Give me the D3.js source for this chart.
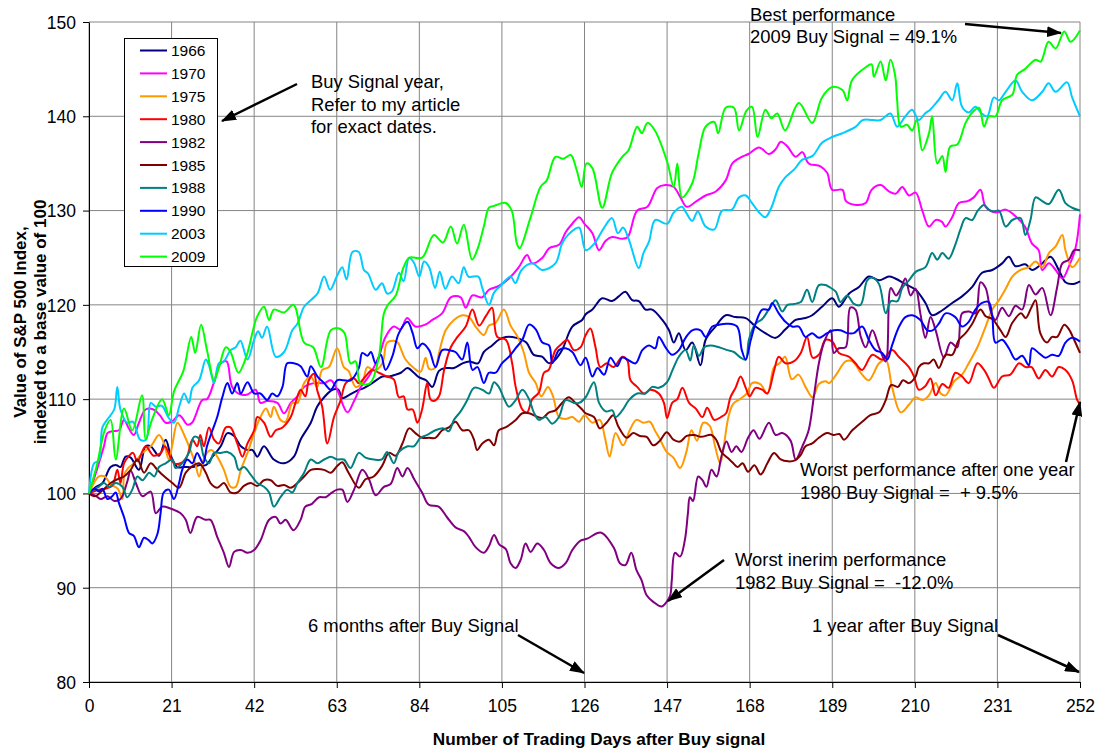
<!DOCTYPE html>
<html>
<head>
<meta charset="utf-8">
<script src="https://cdn.jsdelivr.net/npm/d3@7"></script>
<style>
  body { margin: 0; background: #fff; }
  svg { display: block; }
  text { font-family: Arial, "Liberation Sans", sans-serif; fill: #000; }
</style>
</head>
<body>
<div id="chart"></div>
<script>
// Années du signal d'achat et couleurs (ordre de la légende)
const years = ["1966", "1970", "1975", "1980", "1982", "1985", "1988", "1990", "2003", "2009"];
const colors = ["#000080", "#FF00FF", "#FF9900", "#FF0000", "#800080", "#800000", "#008080", "#0000FF", "#00CCFF", "#00FF00"];

const xTicks = [0, 21, 42, 63, 84, 105, 126, 147, 168, 189, 210, 231, 252];
const yTicks = [80, 90, 100, 110, 120, 130, 140, 150];

// Valeurs : [jour de bourse, indice]
const s1966 = [[0,100],[1.5,100.6],[3.4,101.1],[5.5,102.8],[7,103],[8,102.8],[9.3,103.9],[10.6,103.8],[12.7,102.5],[14.4,105],[15.7,105],[17.8,104],[19.5,105.7],[20.8,104],[22.5,102.8],[24.2,102.8],[26.4,102.8],[28,103],[29.7,103],[31.4,103.9],[33.5,105],[35.2,106.4],[36.9,106.1],[38.6,105],[40.3,104.6],[41.6,104.6],[42.8,103.9],[44.5,105],[47,103.6],[49.6,103.2],[52.1,103.9],[53.8,105.7],[56.4,107.5],[58,109.2],[59.8,110.2],[61.9,111],[63.4,111],[64.4,110.1],[66,110.4],[68.2,110.9],[70,111.2],[72,111.7],[74.6,112.4],[76.3,112.4],[78,112.6],[79.3,112.8],[81,113.3],[82.6,112.8],[84,112.3],[85.7,112],[87.3,111.3],[89,113],[90.7,113.3],[92.8,113.3],[95,113.8],[96.7,114],[98.9,113.8],[100.4,115],[102.5,115.7],[104.2,116.3],[106,116.6],[108.7,116.5],[111.2,116],[113.1,114.7],[115.2,114.5],[117,113.8],[118.6,114.2],[120.3,115.2],[122.9,117.7],[125.4,118.4],[126.3,119],[128,119.5],[130.5,120.7],[133,120.4],[134.7,120.9],[136.4,121.4],[138.1,120.5],[139.8,120.4],[141.5,119.5],[143.2,119.5],[145.8,118.4],[147.5,117.3],[148.7,116],[150,117],[151.7,115.2],[153.4,116],[155.5,113.6],[156.8,116.3],[159.3,117.7],[161.9,118.9],[164.4,118.7],[167,118.6],[169.5,117.7],[172,117],[174.6,116.5],[177.1,117.4],[179.7,118.4],[182.2,118.6],[183.9,118.9],[186.4,119.8],[189,120.7],[190.7,119.8],[193.3,121.2],[195.8,121.9],[198.3,123],[200.9,122.6],[203.4,123],[205,122.8],[207.6,122.2],[210.2,121.6],[212.7,120.2],[214.4,118.9],[216.9,119.4],[219.5,120.2],[222,120.9],[224.6,121.9],[227.1,123.4],[229.7,123.7],[232.2,124.4],[233.9,125.1],[235.6,124.1],[238.1,124.3],[239.8,123.7],[242.4,124.4],[244.5,125.1],[246.6,123.7],[248.3,122.4],[250,122.2],[252,122.5]];

const s1970 = [[0,100],[2,102.5],[3.8,105],[4.7,106.4],[6,106.6],[7.6,106.7],[8.9,107.8],[10,107],[11.4,106.2],[12.7,107.5],[14.4,108.9],[16.4,108.9],[18,108.3],[19.5,107.5],[21,107.6],[23,108.3],[25,107.3],[26.2,107.5],[28.8,109.9],[30,110],[31.8,111.8],[33.5,113.8],[35,114],[36.4,111.3],[38.5,110.5],[40.3,110.5],[42.4,111],[43.6,109.6],[45.3,109.8],[47.9,109.6],[49.6,108.5],[51.3,109.6],[53,110.3],[54.7,111.3],[57.2,111.7],[59.8,111.7],[61.5,112],[63.1,111],[65.7,108.6],[67.4,109.8],[69,111.2],[71.3,112.5],[73.7,114.5],[75.4,116.6],[77.5,117.7],[79.2,117.4],[80.9,118.6],[83,117.7],[85.5,117.9],[87.3,118.4],[89.8,119.1],[92,120.8],[94.5,120.8],[95.8,119.7],[97.5,121],[100,120.8],[101.7,121.6],[104.2,122],[106.8,122.8],[109.3,124],[111.4,125.3],[112.7,124.4],[115.3,125],[117,126],[119.6,126.4],[121.2,127.7],[122.9,128.6],[124.6,129.3],[126,128.6],[128,127.6],[129.7,125.8],[131.4,126.8],[133,127.2],[135.6,127],[137,127.2],[139.4,130],[142,130.4],[144.5,132.4],[146.6,132.7],[148.7,132.5],[150.4,131.4],[152,130.4],[154.5,131],[156.8,131.6],[159.3,132],[161.9,133.2],[163.6,135],[166,135.7],[167.7,136],[170.4,136.7],[172.9,136],[174.6,136.5],[175.9,137.3],[177.6,136.8],[179.7,135.7],[181.4,136.2],[183,135],[186,134.7],[187.7,134],[189,132.2],[191.6,132.2],[192.5,131],[195,130.6],[197.5,130.8],[199,132.2],[201.3,132.7],[203.5,132],[205.2,131.8],[206.8,132.5],[208.5,131.6],[210.2,131.9],[211.9,130],[213.6,128.3],[215.3,129],[216.9,128.8],[217.8,128.3],[219.5,129.3],[221.2,130.8],[223.4,131],[225,131.4],[226.7,132.2],[228,130.4],[230.5,129.8],[233.1,130.1],[235.6,129.4],[238,128.3],[239.8,126.5],[241.5,125.8],[242.4,123.7],[244.1,124.4],[245.8,123.7],[247.5,122.8],[249.2,124.1],[250.9,126.1],[252,129.6]];

const s1975 = [[0,100],[2.5,101.8],[4,101.8],[5.5,101],[7.3,100.5],[8.5,99.4],[9,102],[10,102.7],[11.4,103.2],[13.6,104.3],[15.7,105],[17.8,106.2],[19,105.4],[20.3,103.6],[21.2,105.2],[22.5,107.5],[24.2,106.2],[25.8,104.6],[27,103.2],[28,101.8],[29.5,104],[31.1,104.6],[32.6,103.9],[34.3,102.5],[36,100.7],[37.3,100.7],[38.6,102.5],[40.3,104.3],[42,106.4],[43.6,108.1],[45,109],[46.2,108.1],[47,109.2],[48.7,107.8],[50,107.6],[51.7,109.6],[53,109.6],[54.7,111.7],[56.4,112.4],[58,111.3],[59.3,113.1],[61,113.4],[63.1,115.4],[64.8,113.4],[66,113],[67.8,111.3],[69.5,111.8],[70.8,113.4],[72.5,113],[74.6,113.8],[75.8,116],[77.5,116.2],[78.5,116],[80.5,114.2],[82.6,113.3],[84.3,112.9],[85.6,114.4],[86.5,113.2],[88,113.3],[89,114.9],[90.7,117.3],[92.8,118.4],[95,118.9],[96.7,118.7],[98.3,117.7],[100.4,116.8],[101.7,117.8],[103.4,118.1],[105.5,119.5],[107.2,117.8],[109,116.6],[110.6,114.9],[111.9,112.8],[113.6,111.7],[115,110.3],[116.7,111.3],[118,110.3],[119.5,108.1],[121.2,107.9],[122.9,108.1],[124.6,107.6],[126,108.3],[128,107.5],[129.9,107.8],[131.2,105.9],[132.4,103.9],[133.9,106.4],[135.8,105.1],[137.5,106.7],[139.2,107.8],[141,107.5],[142.6,107.6],[144,106.6],[145,105.9],[146.9,104.4],[148.6,103.8],[150.3,102.7],[151.9,104.4],[153.2,106.7],[154.6,105.6],[156.2,107.5],[157.8,107.2],[159.2,105],[160.5,103.2],[161.3,104.7],[162.6,108.1],[163.8,109.5],[165.5,110],[167.3,110.6],[168.6,111.7],[170.7,111.6],[172.5,110.6],[174.2,113.4],[175.6,113.8],[177,114.5],[178.7,112.1],[180.4,112.6],[182.2,111.3],[184,110.2],[185.6,111.6],[187.3,111.9],[188.2,111.7],[190,112.6],[192.4,114],[194.1,114],[196.6,112.6],[198.3,112],[200.9,113.8],[202.6,114.2],[204.2,111.3],[206.4,108.6],[208.5,109.4],[210.2,110.2],[212,109.9],[213.6,110.4],[215.3,111.7],[216.6,110.6],[217.8,110.4],[220,111.9],[222,112.6],[223.7,113.8],[225.9,115.5],[228,117.7],[229.7,119.5],[231.4,120.5],[233.1,121.7],[234.8,123],[236.9,123.7],[239,124],[240.7,124.6],[242.4,124],[244.1,125.5],[245.8,126.2],[247.5,127.4],[248.3,125.8],[250,124],[252,125]];

const s1980 = [[0,100],[2.5,100.4],[4.2,100.5],[5.9,100.8],[7.2,102.5],[8,101.1],[8.9,103.2],[10,103.9],[11.2,104.3],[12.3,103.4],[14.4,105],[16.4,104],[18.3,104.3],[19.3,105],[21.6,103.2],[23.3,103.2],[24.9,103.9],[26.3,105.7],[27.5,105],[28.3,106.2],[29.2,105],[30.5,107],[31.8,105.7],[33,105.3],[34.8,107],[36,107],[37.7,105.3],[39,103.9],[40.3,105.3],[42,106.7],[42.8,108.1],[44.5,107.5],[46.2,106],[47.5,106.7],[49.2,107],[51.3,108.1],[52.5,109.6],[53.8,111],[55,110.3],[55.9,112],[57.2,112.7],[58,111],[59.3,109.2],[60.6,105.3],[62.3,108.1],[64,109.9],[65.3,111.7],[67.4,112.2],[68.6,111.7],[70.3,112.4],[72,113.1],[73.7,112.8],[75.8,112.4],[77.5,112.1],[78.8,110.2],[80,110.3],[81,108.9],[82.3,108.9],[83.5,107.5],[84.7,108.9],[86,111.7],[86.8,110],[87.7,109.8],[89,110.3],[90.3,113.1],[92,115.5],[93.7,116.6],[95.8,117.7],[97.5,119.5],[99.2,117.8],[100.9,118.8],[102.5,119.7],[103.8,116.6],[106,116.3],[107.6,113.8],[108.5,111.3],[110.2,108.9],[111.4,108.6],[112.7,110],[114.4,110.7],[115.7,112.8],[116.9,113.1],[118.6,115.2],[120.3,115.9],[121.6,116.3],[123.3,115.2],[125,115.5],[126.3,116.8],[127.5,117.5],[128.8,115.5],[130,113.4],[131.7,113.8],[133.4,113.4],[135.6,114.5],[136.9,114.1],[137.7,112],[139.4,111.3],[141.1,110.6],[142.8,111],[144.9,110.6],[146.2,109.6],[147,108],[148.3,109.6],[149.6,110],[150.9,111.2],[152.6,109.6],[154.3,109],[156,108.1],[157.2,109.1],[159,107.8],[160.7,108.1],[162,108.5],[163.1,110.2],[164.4,111.2],[165.7,112.4],[167,111.2],[168,110.3],[169.5,111.2],[171.2,111],[172.5,110.6],[174.2,113],[175.4,114.5],[177.1,113.8],[179.2,114],[181,114.9],[182.6,116.6],[184,114.4],[185.6,114.7],[187.3,116.3],[189,116.1],[190.7,114.9],[193.2,114.5],[194.9,113.8],[196.6,113.1],[199.2,114.7],[201.7,114.2],[204.2,115.2],[205.9,114.5],[208.5,113.4],[209.8,112.4],[211,111],[212.7,111.4],[214,112.2],[215.3,110.4],[217,111.6],[218.6,111.2],[220.3,112.8],[222,112.4],[223.7,111.7],[225.9,113.8],[227.6,113.1],[228.8,112.2],[230.1,111.2],[232.2,112.4],[234.3,112.6],[236.5,113.8],[238.2,113.4],[239.7,113.4],[241.5,112.2],[243.2,113.1],[244.9,112.4],[246.6,113.4],[248.3,113.1],[250,112],[251.3,109.9],[252,109.5]];

const s1982 = [[0,100],[1.5,99.8],[3,99.4],[4.7,99.7],[6.4,99.2],[8,99.4],[9.7,101.2],[10.6,102.4],[12,101],[13.6,99.7],[15.7,100.2],[17,97.9],[18.6,98.6],[20.7,98.4],[23.3,97.9],[24.6,97.2],[25.8,95.8],[27.5,97.5],[29.6,97.2],[30.9,97.2],[32.6,95.4],[34.3,93.7],[35.6,92.2],[36.9,93.8],[38.6,94],[40.3,93.7],[42,94],[43.6,95],[45.8,97.2],[47.5,97.5],[48.7,96.8],[50,97.2],[52,96.1],[53.8,97.2],[55,98.6],[56.7,98.9],[58.5,99.6],[60.2,99.6],[61.5,100],[63.1,100.4],[64.4,100.4],[65.7,99.1],[67.4,100.4],[69.5,102.5],[71.2,101.5],[72.9,99.8],[75,100.7],[76.7,101],[78.4,102.7],[79.7,101.8],[81,102.7],[82.7,101.5],[84.7,100.1],[86.4,98.8],[88.9,98.6],[91,97.5],[93.2,96.4],[95.3,96],[96.6,95.4],[98.3,94.3],[100.4,93.7],[101.7,94.4],[103,95.6],[104.3,94.6],[106,94.1],[107.2,92.6],[108.5,92.1],[109.8,93],[111,94.7],[112.3,93.8],[114,94.7],[115.7,94],[117.4,92.6],[119.5,92.1],[121.2,92.6],[122.9,94],[125,95],[126.7,95.2],[129.3,95.8],[130.5,95.8],[133.5,94.2],[135,92.6],[136.4,92.4],[137.9,93.7],[139.2,91.9],[140.5,90.8],[141.8,89.2],[143.5,88.5],[145.6,88],[146.9,88.5],[147.8,89.2],[148.2,90.8],[149,93.7],[150.3,93.3],[151.5,95],[152.3,97.9],[152.8,99.6],[153.6,99.2],[154.9,101.8],[156,101.4],[157,100.7],[158.3,102.5],[159.6,101.8],[160.8,103.9],[162.1,105.5],[163.4,104.4],[164.6,105],[165.9,104.4],[167.6,105.9],[169,106.7],[170.5,105.8],[172.9,107.5],[174.6,106.2],[176.3,106.4],[178.4,105.6],[179.7,103.6],[181.4,105],[183,106.7],[184.3,110.2],[185.6,113.8],[186.9,116],[188.6,117.3],[189.4,114.9],[190.7,115.4],[192.4,115.5],[193.6,119.7],[194.9,119.5],[196.2,116.7],[197.5,115.5],[199.2,117.3],[200.9,115.5],[202.6,114],[203.9,121.8],[205.2,121],[206.4,121.7],[207.6,122.8],[208.9,121],[210.2,121.7],[211.4,119.1],[212.7,116.5],[214,118.7],[215.3,117.3],[217.4,114.4],[219.1,116],[220.8,115.5],[222,119.1],[223.7,119.3],[225.4,119.1],[226.7,122.4],[228,121.8],[229.3,119.3],[230.5,118.4],[232.2,119.7],[233.9,118.8],[235.6,119.9],[237.3,119.5],[239,122.1],[240.7,121.1],[242.4,121.8],[244.5,118.9],[246.2,121.9],[247.5,124.4],[249.2,124.8],[250.5,125.8],[252,125.8]];

const s1985 = [[0,100],[1.5,99.7],[3.4,100.3],[5.5,101.1],[7.2,101.5],[8.9,101.8],[10.6,102.5],[12.3,103.6],[14,102.2],[15.7,103.2],[17.4,102.5],[18.6,102],[21.2,101.1],[22.9,100.6],[24.6,102.2],[26.3,102.9],[28,103.2],[29.7,102.2],[30.9,101.1],[32.6,100.6],[34.3,101.1],[36,100.1],[37.7,100.1],[39.4,100.8],[41.1,101.1],[42.8,100.8],[44.5,101.4],[46.2,101.4],[47.9,100.8],[49.6,100.9],[51.3,100.6],[53,101.1],[54.7,101.8],[56.4,102.5],[58.1,102.6],[59.8,102.5],[61.5,102.2],[63.1,102.9],[64.4,103.3],[66,102.2],[68.6,100.6],[70.3,101.5],[72.4,101.8],[74.5,102.9],[76.3,104.3],[78,104],[79.7,105.3],[81.4,106.9],[83,106.4],[84.7,105.9],[86.4,105.9],[88.1,105.9],[89.8,106.7],[91.5,107],[93.2,107.6],[94.9,106.7],[96.6,106.7],[97.9,105.7],[98.7,104.6],[100,105.3],[101.7,105.7],[103,105.1],[104.2,106.7],[105.9,107],[108.5,107.8],[110.2,108.5],[111.9,108.5],[113.6,108.2],[115.3,108],[117,108.6],[118.6,108.8],[120.3,109.6],[122,110.2],[123.7,109.6],[125.4,108.9],[126.3,108.5],[128.4,108.1],[129.9,106.9],[131.6,107.5],[133.3,108.3],[134.6,107.1],[136.7,105.9],[138.4,106.4],[140.1,106.1],[141.8,106],[143.5,105.1],[145.2,105.6],[146.9,106.5],[148.6,105.7],[150.3,105.5],[152,106.1],[153.9,106.2],[155.6,106],[158.3,106.2],[159.6,105.6],[160.8,104.4],[162.3,103.8],[163.6,103.3],[164.9,102.8],[166.2,103.2],[167.6,102.3],[169.2,103],[170.8,102],[172.5,103.2],[174.2,104.3],[175.9,103.6],[177.8,103.4],[179.5,103.5],[181,104.1],[182.2,105],[183.9,105.3],[185.6,105.9],[187.7,106.4],[189.4,106.2],[190.8,106.3],[192,105.7],[194.1,106.7],[196.6,107.6],[198.7,108.3],[200.9,108.6],[202.6,109.9],[204,111.5],[205.7,111.3],[207,112],[208.5,111.7],[210.2,112.4],[211,113.4],[212.3,113.8],[213.6,113.8],[214.8,114.2],[216.1,113.3],[217.8,114.7],[219.5,114.7],[221.2,116.3],[222.9,117],[224.6,118],[226.7,119.5],[228,118.8],[229.7,118.5],[231.8,117.3],[233.1,116.6],[234.8,118.1],[237,119.1],[238.2,118.6],[239.5,119.6],[240.7,120.5],[241.9,117],[243.6,116],[244.9,116.6],[246.2,116.6],[248,117.9],[249.2,117.4],[250.5,116.3],[252,114.9]];

const s1988 = [[0,100],[1.2,100.4],[2.5,100.7],[3.8,101.1],[5.1,100.7],[6.8,101.1],[8.5,100.7],[9.7,99.6],[11,100.4],[12.3,101.8],[13.6,101.4],[15.3,102.2],[16.6,101.8],[17.8,102.8],[19.5,103.2],[21.2,103.6],[22,102.7],[23.7,103.2],[25.4,104.3],[26.7,106],[28,105.8],[29.2,103.9],[30.5,103.2],[31.8,104.3],[33.5,104.3],[35.2,104.4],[36.9,103.9],[38.1,102.5],[39.4,102.8],[41.1,102],[42.8,101.1],[44.5,100.7],[45.8,100.1],[47,98.6],[48.7,99.6],[50.4,100.4],[51.7,100.1],[53,101.1],[54.7,102.2],[56.4,103.6],[58.1,103.2],[59.8,103.6],[61.5,103.9],[63.1,103.6],[64.8,103.6],[66.5,102.7],[68.6,104.3],[70.3,103.8],[72.4,103.6],[74.5,103.6],[75.8,104.4],[77.5,103.2],[78.8,104.4],[81,105],[82.6,105],[84.3,105.9],[86,106.2],[88.1,106.7],[90.2,106.9],[91.5,106.6],[92.8,107.8],[94.5,108.7],[96.2,109.9],[97.9,111.2],[100,111],[101.7,110.6],[103,111.8],[104.2,111.3],[105.5,110.1],[106.8,109.2],[108.5,109.9],[110.2,111],[111.9,110],[113.1,108.6],[114.4,107.8],[116.1,108.1],[117.8,107.4],[119.5,108.1],[121.2,109.9],[123.3,109.6],[124.6,109.6],[126.3,110.2],[128.4,111.8],[129.7,109.6],[131.4,108.7],[133.1,108.8],[133.9,108.1],[135.6,108.8],[137.3,109.9],[139.4,110.6],[141.5,110.6],[143.2,111.3],[144.9,111.2],[147,111.8],[148.3,113],[150,114.5],[151.7,115.2],[152.9,114.1],[153.8,115.7],[155.1,114.6],[156.4,115.5],[158,115.7],[160.2,115.5],[162.3,115.2],[164,115],[165.7,114.4],[167,114.2],[167.8,116.3],[169.5,118],[171.2,118.5],[173.3,119.8],[174.6,120.5],[176.3,119.3],[177.6,120],[179.3,120.1],[181,120.3],[182.6,121.6],[183.9,120.3],[185.6,122.1],[187.3,122.1],[188.2,121.9],[189.9,121.4],[191.1,120.3],[192.8,121],[194.5,120.1],[196.2,120],[197.9,122.6],[199.2,122.9],[200.9,122.2],[202.6,119.1],[203.9,120.4],[205.6,120.4],[206.8,121.8],[208.5,122.6],[210.2,123.5],[212.7,124],[214.4,125.5],[215.7,124.8],[217,125.5],[218.6,124.9],[220.3,126.4],[221.6,128],[222.9,129.2],[224.6,129],[226,130],[227.6,130.6],[228.8,130.1],[230.1,129.9],[231.4,130],[233.1,128.3],[234.8,129],[236.9,129.2],[238.1,127.4],[239.4,129],[240.7,131.4],[242.4,131],[244.1,130.7],[246.6,132.2],[248.3,130.8],[250,130.3],[252,130]];

const s1990 = [[0,100],[1.5,100.5],[2.5,100.2],[3.4,100.5],[4.7,99.4],[5.9,99.7],[6.8,100.1],[7.6,99],[8.9,97.5],[10.2,95.8],[11.4,95.5],[12.7,94.3],[14,95.3],[15.3,95],[16.1,94.7],[17.4,95.7],[18.2,97.9],[19,100.1],[20.3,100.4],[21.6,99.4],[22.9,101.1],[23.7,102.5],[25,103.6],[26.3,103.2],[27.5,104.3],[29,103.2],[30,105],[31.4,106.7],[32.6,108.1],[33.9,110.2],[35.2,111.7],[36.4,110.6],[37.7,111.7],[38.6,110.6],[40.3,111.8],[42,110.6],[43.6,110.6],[45.3,109.9],[46.6,110.6],[47.9,110.3],[49.2,111.3],[50.4,113.8],[52.1,113.8],[53.8,113.5],[55.5,112.4],[56.4,113.5],[58.1,112.4],[59.8,111.7],[61.5,111],[63.1,112],[64.8,112],[66.5,112],[68.6,113.3],[69.5,114.9],[70.8,114.6],[71.7,115],[72.9,113.8],[74.2,114.7],[75.4,113.1],[77.1,114.5],[78.8,117],[81,118.2],[82.3,117],[83.5,115.4],[84.8,115.9],[86.5,115.2],[88.1,113.4],[89.8,115.2],[91.5,115.2],[93.2,115],[94.9,114.2],[96.2,116],[97.5,113.1],[98.8,113.4],[100.4,111.7],[101.7,112.8],[103.4,112.8],[105,113.8],[106.8,114.5],[108.5,115.4],[110.2,116.3],[111.9,117.9],[113.6,117.4],[115.3,116],[117,115.7],[117.8,113.8],[119.5,115.2],[121.2,115.4],[122.9,115],[125,113.6],[126.3,114.4],[128,112.4],[129.3,113.3],[131,112.6],[132.6,114.4],[134.3,113.5],[135.6,114.4],[137.3,114.1],[139,113.8],[140.7,115.2],[142.4,115.7],[144,115.4],[144.9,116.6],[146.6,115.5],[148.3,114.7],[150,115.2],[151.7,116.5],[153.4,117.3],[155.5,117.3],[156.8,116.6],[158.5,117.7],[160.2,117.9],[162.3,118],[164.8,117.7],[166,115.2],[167,114.2],[168.3,116.3],[169.5,118],[171.2,119.5],[172.9,119.5],[173.7,120.2],[175.4,119.1],[177.1,118.2],[178.8,117.7],[180.5,117.7],[182.2,116.6],[183.9,117],[185.6,116.5],[187.7,117],[189.4,117.3],[191.1,117.3],[192.8,117],[194.5,117],[196.6,117.7],[198.3,116.3],[200,115.2],[201.7,114.9],[203,114.2],[204.2,115.7],[206,117.7],[207.6,118.7],[209.3,118.9],[211.4,118.4],[213.2,117.3],[214.5,117.3],[216.1,118],[217.8,119.1],[220.3,118.7],[222,117.7],[223.7,118.2],[225.4,119.5],[227.1,120.2],[228.8,120.3],[229.7,118.7],[230.5,116],[232.2,116.3],[233.9,115.4],[235.6,114.2],[237.3,114.6],[239,113.6],[239.8,115.4],[241.5,114.9],[243.2,114.4],[244.9,114.7],[246.6,114.6],[248.3,116],[250,116.5],[252,116.1]];

const s2003 = [[0,100],[1.3,103.2],[2.5,103.5],[3.4,107],[4.6,107.8],[6.4,108.9],[7.2,111.3],[8,108.9],[9.7,107.5],[11.2,107.6],[13,105.7],[14.5,105.7],[15.7,109.6],[17,109.2],[18.5,109.3],[20.3,108],[21.6,107.5],[23,109.3],[24.2,110.6],[25.4,109.6],[26.3,111.2],[28,112],[29.7,114.2],[30.5,113.6],[31.8,111.7],[33,113.8],[34.3,114],[36,115.2],[37.3,115.5],[38.5,116.2],[40.3,114.2],[42,116.3],[43,117.2],[44,116.5],[45.3,117.7],[47.5,114.5],[49.6,115],[51.7,117.3],[53,118],[54.7,119.8],[56.4,120.5],[58.1,121.2],[59.8,123],[61.3,121.6],[63,123],[64.4,124],[65.5,122.7],[67,125.6],[68.6,125.6],[69.9,123.7],[71,123.3],[72.9,121.6],[74.5,122.3],[75.8,121.2],[77,121.4],[78.8,123.4],[80,122.5],[81.4,125],[82.6,124.5],[84,123],[85.2,124.6],[86.5,124],[88,121.8],[89.2,123.5],[90.6,121.7],[92.3,123],[94,122.3],[95.3,124],[96.5,123],[99,123],[100,121.8],[101.7,120],[103,121.3],[104.6,122],[107.2,123],[108.4,122.3],[110,123.7],[112.7,124.4],[115.3,123.7],[118.6,124.4],[120.3,126.5],[122,127.5],[124.6,128.2],[126.3,125.8],[128.5,126.5],[131,128.2],[133,129.2],[134.5,127.6],[135.8,128.2],[137.3,126.9],[139.8,123.9],[141,125.5],[142.4,126.7],[144,129],[147,128.6],[148.7,129.8],[150.8,130.4],[151.8,129.8],[153.4,128.9],[154.8,129.9],[156.8,128.3],[159,128],[161,130],[163.5,130.1],[165.3,131.4],[167,131.6],[168.6,130.8],[170.4,129.8],[172,129.3],[173.5,130.3],[175.4,132.5],[177,133.5],[179.4,134.4],[181.4,135.4],[184,135.8],[186.4,137.2],[189,137.8],[191.6,138.2],[195,138.9],[196.7,139.6],[199.2,139.6],[201.3,139.6],[203.8,140.3],[205.5,138.9],[207.6,140],[209.3,140.7],[211,139.6],[212.6,140.3],[213.9,140.7],[216,141.7],[217.8,142.6],[219.5,141.7],[220.8,143.5],[222,141],[223.7,140.4],[225.4,141],[227,140.3],[228.4,140],[230.1,142],[231.4,141.7],[233.1,142.6],[235.6,143.8],[237.3,142.6],[239.8,141.7],[242.4,142.6],[244,143.5],[245.8,142.6],[248.7,143.6],[250,142],[252,140]];

const s2009 = [[0,100],[2,103],[4,106.7],[5.5,107.8],[6.8,103.6],[8.9,109],[11,106.7],[13.5,110.4],[14.4,105.7],[16,107.8],[18.6,110],[20.3,108.3],[21.6,110.8],[24,113],[26,116.6],[27,114.9],[28.5,117.9],[30,115.2],[31.8,112],[33,113.3],[34.8,115.5],[36,115],[38,112.8],[40,114.5],[42.7,118.7],[44.5,119.8],[45.8,118.4],[47,119.5],[49.6,119.2],[52,120],[54.7,116],[57,115.5],[59,113.4],[61.5,117.3],[63.6,117.5],[65,117],[66.5,113.8],[67.8,114],[69,111.7],[71.5,111.7],[73.7,114.5],[75,119.1],[76,120],[78,121],[80,124],[81.5,125],[84.7,125],[87.7,127.4],[90,126.6],[92,128.3],[93.6,126.5],[95.3,128.5],[97.4,124.8],[98.7,125.8],[100.4,128.3],[101.7,130.3],[103,130.5],[106,130.8],[107.5,130],[108.8,126.5],[109.5,126],[112.3,129.3],[114.8,132.5],[116.4,133.2],[118.6,135.7],[120.6,135.5],[122.5,135.9],[124,134.3],[125.3,132.5],[126.5,135],[128,134.5],[130.5,130.3],[133,134],[135.6,135.7],[137.2,136.4],[139.4,138.9],[140.6,138.2],[142,139.3],[143.9,138.5],[147,135.2],[148.7,132.5],[149.6,135],[150.8,131.4],[153.4,132.9],[155,136],[156.8,138.9],[159,139.4],[160,138.2],[161.9,140.9],[164,140.9],[165.3,138.5],[167.2,140.6],[168.6,141],[170,137.8],[172,140.7],[173.5,139.8],[175,140.3],[177,138.5],[180.5,141.4],[183.9,139.3],[186.4,142],[189,143.1],[191.6,142.8],[192.8,141.7],[194,143.8],[197.5,145.2],[199,145.5],[199.6,144.2],[201.3,145.8],[202.6,143.8],[203.8,146],[205,144.3],[205.5,141.7],[206.4,138.9],[208,139.1],[209.3,138.5],[210.5,139.6],[211.9,136.4],[213.6,138.2],[214.4,140],[215.7,135],[217,135.8],[217.8,134.1],[219,136.8],[220.8,137],[222.9,139.3],[224.6,140.4],[226.3,140.9],[227.6,138.9],[228.8,140],[230.5,140],[232.2,141.7],[234.8,142.3],[236,144.4],[238,145],[240.7,146],[242,145.8],[244,147.9],[245.8,147.2],[248,149],[249.6,147.9],[252,149.1]];

const seriesValues = [s1966, s1970, s1975, s1980, s1982, s1985, s1988, s1990, s2003, s2009];

const W = 1103, H = 751;
const margin = { top: 22, right: 23, bottom: 69, left: 89 };
const FONT = "Arial, 'Liberation Sans', sans-serif";

const svg = d3.select("#chart").append("svg")
  .attr("width", W).attr("height", H);

const x = d3.scaleLinear().domain([0, 252]).range([margin.left, W - margin.right]);
const y = d3.scaleLinear().domain([80, 150]).range([H - margin.bottom, margin.top]);

// Grille
svg.append("g").selectAll("line.vg")
  .data(xTicks).enter().append("line")
  .attr("x1", d => x(d)).attr("x2", d => x(d))
  .attr("y1", y(80)).attr("y2", y(150))
  .attr("stroke", "#858585").attr("stroke-width", 1);

svg.append("g").selectAll("line.hg")
  .data(yTicks).enter().append("line")
  .attr("x1", x(0)).attr("x2", x(252))
  .attr("y1", d => y(d)).attr("y2", d => y(d))
  .attr("stroke", "#858585").attr("stroke-width", 1);

// Axes
const xAxis = svg.append("g")
  .attr("transform", `translate(0,${y(80)})`)
  .call(d3.axisBottom(x).tickValues(xTicks).tickSize(6).tickSizeOuter(0));
const yAxis = svg.append("g")
  .attr("transform", `translate(${x(0)},0)`)
  .call(d3.axisLeft(y).tickValues(yTicks).tickSize(6).tickSizeOuter(0));

[xAxis, yAxis].forEach(ax => {
  ax.select(".domain").attr("stroke", "#000");
  ax.selectAll(".tick line").attr("stroke", "#000");
  ax.selectAll("text")
    .attr("font-size", "17.5px")
    .attr("font-family", FONT)
    .attr("fill", "#000");
});
xAxis.selectAll("text").attr("y", 30).attr("dy", null);
yAxis.selectAll("text").attr("x", -13).attr("dy", "0.36em");

// Titres des axes
svg.append("text")
  .attr("x", 599).attr("y", 745)
  .attr("text-anchor", "middle")
  .attr("font-size", "17.2px").attr("font-weight", "bold")
  .text("Number of Trading Days after Buy signal");

const yt = svg.append("text")
  .attr("transform", "translate(26,322) rotate(-90)")
  .attr("text-anchor", "middle")
  .attr("font-size", "17px").attr("font-weight", "bold");
yt.append("tspan").attr("x", 0).attr("y", 0).text("Value of S&P 500 Index,");
yt.append("tspan").attr("x", 0).attr("y", 20).text("indexed to a base value of 100");

// Courbes
const line = d3.line()
  .x(d => x(d[0]))
  .y(d => y(d[1]))
  .curve(d3.curveCatmullRom.alpha(0.5));

svg.append("g").selectAll("path")
  .data(seriesValues).enter().append("path")
  .attr("d", line)
  .attr("fill", "none")
  .attr("stroke", (_, i) => colors[i])
  .attr("stroke-width", 2)
  .attr("stroke-linejoin", "round");

// Légende
const leg = svg.append("g");
leg.append("rect")
  .attr("x", 124.5).attr("y", 38.5)
  .attr("width", 93).attr("height", 228)
  .attr("fill", "#fff").attr("stroke", "#000").attr("stroke-width", 1);
const rows = leg.selectAll("g.row").data(years).enter().append("g")
  .attr("transform", (_, i) => `translate(0,${50.5 + i * 22.9})`);
rows.append("line")
  .attr("x1", 140).attr("x2", 167)
  .attr("stroke", (_, i) => colors[i]).attr("stroke-width", 2);
rows.append("text")
  .attr("x", 171).attr("dy", "0.36em")
  .attr("font-size", "15.5px")
  .text(d => d);

// Flèches et annotations
const defs = svg.append("defs");
defs.append("marker")
  .attr("id", "arrow")
  .attr("markerUnits", "userSpaceOnUse")
  .attr("markerWidth", 15).attr("markerHeight", 11)
  .attr("refX", 14).attr("refY", 5.5)
  .attr("orient", "auto")
  .append("path").attr("d", "M0,0 L15,5.5 L0,11 Z").attr("fill", "#000");

const arrows = [
  [297, 84, 222, 121],
  [965, 24, 1061, 33],
  [1066, 462, 1080, 402],
  [724, 560, 668, 601],
  [518, 635, 584, 673],
  [998, 635, 1079, 672]
];
svg.append("g").selectAll("line")
  .data(arrows).enter().append("line")
  .attr("x1", d => d[0]).attr("y1", d => d[1])
  .attr("x2", d => d[2]).attr("y2", d => d[3])
  .attr("stroke", "#000").attr("stroke-width", 2.5)
  .attr("marker-end", "url(#arrow)");

const notes = [
  { x: 311, y: 88, lines: ["Buy Signal year,", "Refer to my article", "for exact dates."] },
  { x: 750, y: 20.5, lines: ["Best performance", "2009 Buy Signal = 49.1%"] },
  { x: 800, y: 476, lines: ["Worst performance after one year", "1980 Buy Signal =\u00a0 + 9.5%"] },
  { x: 735, y: 566, lines: ["Worst inerim performance", "1982 Buy Signal =\u00a0 -12.0%"] },
  { x: 308, y: 632, lines: ["6 months after Buy Signal"] },
  { x: 812, y: 632, lines: ["1 year after Buy Signal"] }
];
notes.forEach(n => {
  const t = svg.append("text").attr("font-size", "18.4px");
  n.lines.forEach((l, i) => {
    t.append("tspan").attr("x", n.x).attr("y", n.y + i * 22.7).text(l);
  });
});
</script>
</body>
</html>
